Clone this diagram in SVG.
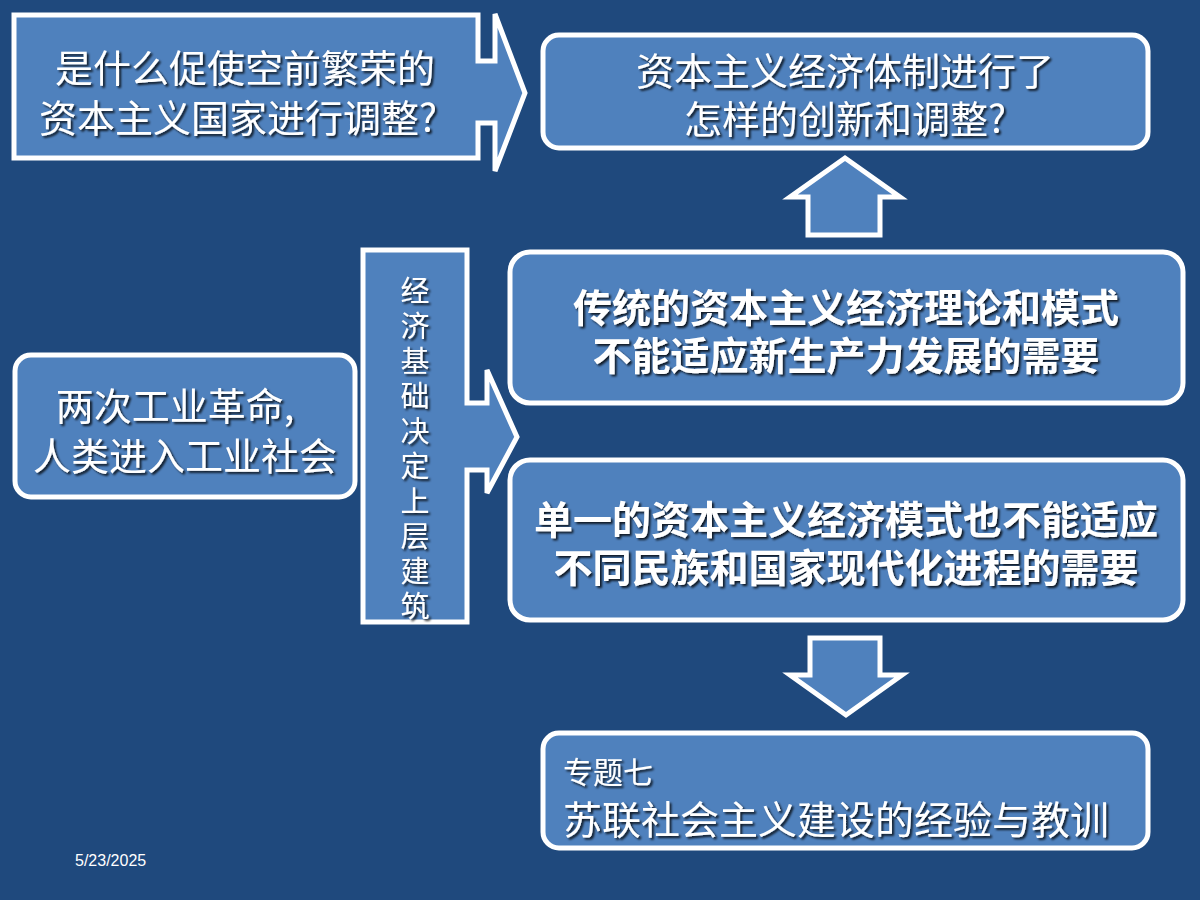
<svg xmlns="http://www.w3.org/2000/svg" width="1200" height="900" viewBox="0 0 1200 900">
<defs>
<filter id="sh" x="-10%" y="-10%" width="120%" height="130%"><feDropShadow dx="2" dy="2" stdDeviation="0.8" flood-color="#000" flood-opacity="0.8"/></filter>
</defs>
<style>
.b{fill:#4f81bd;stroke:#fff;stroke-width:5}
.t{fill:#fff;font-family:"Noto Sans CJK SC",sans-serif;filter:url(#sh)}
</style>
<rect width="1200" height="900" fill="#1f497d"/>
<g id="q1"><path class="b" d="M14,15 H478 V61 H495 V14 L525,93 L495,171 V123 H478 V158 H14 Z"/>
<text class="t" font-size="38" text-anchor="middle"><tspan x="245" y="82">是什么促使空前繁荣的</tspan><tspan x="238" y="132">资本主义国家进行调整?</tspan></text></g>
<g id="q2"><rect class="b" x="543" y="35" width="605" height="113" rx="16"/>
<text class="t" font-size="38" text-anchor="middle"><tspan x="845" y="85">资本主义经济体制进行了</tspan><tspan x="845" y="133">怎样的创新和调整?</tspan></text></g>
<g id="left"><rect class="b" x="15" y="355" width="340" height="142" rx="16"/>
<text class="t" font-size="38" text-anchor="middle"><tspan x="175" y="420">两次工业革命,</tspan><tspan x="185" y="470">人类进入工业社会</tspan></text></g>
<g id="mid"><path class="b" d="M363,250 H467 V403 H487 V370 L517,437 L487,493 V470 H467 V622 H363 Z"/>
<text class="t" font-size="29" text-anchor="middle">
<tspan x="415" y="302">经</tspan><tspan x="415" y="337">济</tspan><tspan x="415" y="372">基</tspan><tspan x="415" y="407">础</tspan><tspan x="415" y="442">决</tspan><tspan x="415" y="477">定</tspan><tspan x="415" y="512">上</tspan><tspan x="415" y="547">层</tspan><tspan x="415" y="582">建</tspan><tspan x="415" y="617">筑</tspan></text></g>
<g id="r2"><rect class="b" x="510" y="252" width="673" height="151" rx="20"/>
<text class="t" font-size="39" font-weight="bold" text-anchor="middle"><tspan x="846" y="322">传统的资本主义经济理论和模式</tspan><tspan x="846" y="370">不能适应新生产力发展的需要</tspan></text></g>
<g id="r3"><rect class="b" x="510" y="460" width="673" height="160" rx="20"/>
<text class="t" font-size="39" font-weight="bold" text-anchor="middle"><tspan x="846" y="534">单一的资本主义经济模式也不能适应</tspan><tspan x="846" y="582">不同民族和国家现代化进程的需要</tspan></text></g>
<g id="r4"><rect class="b" x="543" y="733" width="605" height="115" rx="16"/>
<text class="t" font-size="30" x="563" y="783">专题七</text>
<text class="t" font-size="39" x="563" y="834">苏联社会主义建设的经验与教训</text></g>
<g id="connectors">
<path class="b" d="M845,158 L900,197 H880 V235 H808 V197 H790 Z"/>
<path class="b" d="M810,638 H880 V675 H902 L846,715 L790,675 H810 Z"/>
</g>
<text x="75" y="866" font-family="Liberation Sans,sans-serif" font-size="16" fill="#fff">5/23/2025</text>
</svg>
